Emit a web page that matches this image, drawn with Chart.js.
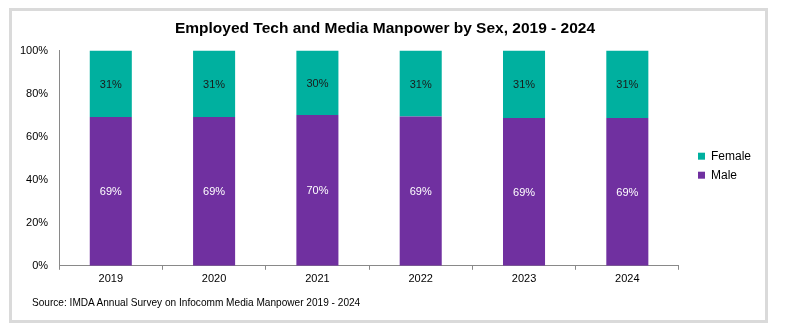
<!DOCTYPE html>
<html lang="en">
<head>
<meta charset="UTF-8">
<title>Employed Tech and Media Manpower by Sex</title>
<script src="https://cdn.jsdelivr.net/npm/chart.js"></script>
<style>
    body { margin: 0; background: #fff; }
    .wrap { position: relative; width: 785px; height: 333px; }
    .moldura { position: absolute; left: 9px; top: 8px; width: 759px; height: 315px; border: 3px solid #dadada; box-sizing: border-box; }
    .fonte { position: absolute; left: 32px; top: 297px; font: 10.1px "Liberation Sans", Arial, sans-serif; color: #000; }
    canvas { position: absolute; left: 0; top: 0; }
</style>
</head>
<body>
<div class="wrap">
    <div class="moldura"></div>
    <canvas id="grafico" width="785" height="333"></canvas>
    <div class="fonte">Source: IMDA Annual Survey on Infocomm Media Manpower 2019 - 2024</div>
</div>
<script>
    // dados (percentual)
    const anos = ['2019', '2020', '2021', '2022', '2023', '2024'];
    const masculino = [69.2, 69.2, 70.1, 69.4, 68.7, 68.7];
    const feminino = [30.8, 30.8, 29.9, 30.6, 31.3, 31.3];
    const rotulosY = [0, 20, 40, 60, 80, 100];

    const fonte = '"Liberation Sans", Arial, sans-serif';

    // escreve os percentuais dentro das barras
    const rotulos = {
        id: 'rotulos',
        afterDatasetsDraw(chart) {
            const ctx = chart.ctx;
            ctx.save();
            ctx.font = '11px ' + fonte;
            ctx.textAlign = 'center';
            ctx.textBaseline = 'middle';
            chart.data.datasets.forEach((ds, i) => {
                const meta = chart.getDatasetMeta(i);
                meta.data.forEach((bar, j) => {
                    const meio = (bar.y + bar.base) / 2 + 1;
                    ctx.fillStyle = ds.corRotulo;
                    ctx.fillText(Math.round(ds.data[j]) + '%', bar.x, meio);
                });
            });
            ctx.restore();
        }
    };

    new Chart(document.getElementById('grafico'), {
        type: 'bar',
        data: {
            labels: anos,
            datasets: [{
                label: 'Male',
                data: masculino,
                backgroundColor: '#7030a0',
                corRotulo: '#ffffff',
                categoryPercentage: 1,
                barPercentage: 0.407
            }, {
                label: 'Female',
                data: feminino,
                backgroundColor: '#00b09f',
                corRotulo: '#1a1a1a',
                categoryPercentage: 1,
                barPercentage: 0.407
            }]
        },
        options: {
            responsive: false,
            animation: false,
            layout: { padding: { left: 9, right: 24, top: 0, bottom: 44 } },
            plugins: {
                title: {
                    display: true,
                    text: 'Employed Tech and Media Manpower by Sex, 2019 - 2024',
                    color: '#000',
                    font: { family: fonte, size: 15.5, weight: 'bold', lineHeight: 1.2 },
                    padding: { top: 19, bottom: 13 }
                },
                legend: {
                    position: 'right',
                    reverse: true,
                    title: { display: true, text: ' ', font: { size: 2 }, padding: 20 },
                    labels: {
                        boxWidth: 7,
                        boxHeight: 7,
                        padding: 7,
                        color: '#000',
                        font: { family: fonte, size: 12 }
                    }
                },
                tooltip: { enabled: false }
            },
            scales: {
                x: {
                    stacked: true,
                    grid: { display: true, drawOnChartArea: false, drawTicks: true, tickLength: 4, color: '#898989' },
                    border: { color: '#898989' },
                    ticks: { color: '#000', font: { family: fonte, size: 11 }, padding: 3 }
                },
                y: {
                    stacked: true,
                    min: 0,
                    max: 100,
                    afterBuildTicks(axis) { axis.ticks = rotulosY.map(v => ({ value: v })); },
                    grid: { display: false, drawTicks: false },
                    border: { display: true, color: '#898989' },
                    ticks: { color: '#000', font: { family: fonte, size: 11 }, padding: 11, callback: v => v + '%' }
                },
                // eixo vazio so para afastar a legenda da area do grafico
                espaco: {
                    type: 'linear',
                    position: 'right',
                    display: true,
                    grid: { display: false, drawTicks: false },
                    border: { display: false },
                    ticks: { display: false },
                    afterFit(axis) { axis.width = 12; }
                }
            }
        },
        plugins: [rotulos]
    });
</script>
</body>
</html>
